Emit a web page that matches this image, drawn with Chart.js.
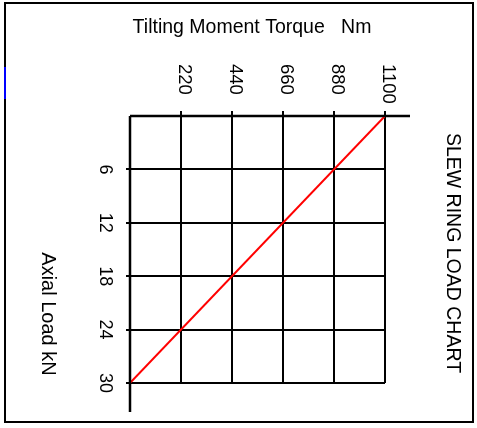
<!DOCTYPE html>
<html>
<head>
<meta charset="utf-8">
<script src="https://cdn.jsdelivr.net/npm/chart.js@4/dist/chart.umd.min.js"></script>
<style>
    html, body { margin: 0; padding: 0; background: #fff; }
    canvas { display: block; }
</style>
</head>
<body>
<canvas id="slewChart" width="477" height="428"></canvas>
<script>
(function () {
    'use strict';

    // data
    var torque = [0, 1100];          // Nm
    var axialLoad = [30, 0];         // kN
    var torqueTicks = [220, 440, 660, 880, 1100];
    var loadTicks = [6, 12, 18, 24, 30];

    var FONT = '"Liberation Sans", Arial, sans-serif';

    var gridColor = function (c) {
        return c.tick && c.tick.value === 0 ? 'rgba(0,0,0,0)' : '#000';
    };

    // frame, axis lines, rotated labels
    var decorations = {
        id: 'decorations',
        afterDraw: function (chart) {
            var ctx = chart.ctx;
            var area = chart.chartArea;
            var x = chart.scales.x;
            var y = chart.scales.y;
            var x0 = x.getPixelForValue(0);
            var y0 = y.getPixelForValue(0);

            ctx.save();
            // outer frame
            ctx.strokeStyle = '#000';
            ctx.lineWidth = 2;
            ctx.strokeRect(5, 3, 468, 419);
            ctx.strokeStyle = '#0000ff';
            ctx.beginPath();
            ctx.moveTo(5, 67);
            ctx.lineTo(5, 99);
            ctx.stroke();

            // axis lines, extending past the grid
            ctx.strokeStyle = '#000';
            ctx.lineWidth = 2.5;
            ctx.beginPath();
            ctx.moveTo(x0, y0);
            ctx.lineTo(area.right + 25, y0);
            ctx.moveTo(x0, y0);
            ctx.lineTo(x0, area.bottom + 29);
            ctx.stroke();

            ctx.fillStyle = '#000';

            // torque tick labels (rotated clockwise)
            ctx.font = '18.5px ' + FONT;
            ctx.textAlign = 'left';
            ctx.textBaseline = 'alphabetic';
            torqueTicks.forEach(function (v) {
                ctx.save();
                ctx.translate(x.getPixelForValue(v) - 2, 64);
                ctx.rotate(Math.PI / 2);
                ctx.fillText(String(v), 0, 0);
                ctx.restore();
            });

            // load tick labels (rotated clockwise)
            ctx.font = '18px ' + FONT;
            ctx.textAlign = 'center';
            loadTicks.forEach(function (v) {
                ctx.save();
                ctx.translate(100, y.getPixelForValue(v));
                ctx.rotate(Math.PI / 2);
                ctx.fillText(String(v), 0, 0);
                ctx.restore();
            });

            // titles
            ctx.font = '19.5px ' + FONT;
            ctx.textAlign = 'center';
            ctx.fillText('Tilting Moment Torque   Nm', 252, 33);

            ctx.save();
            ctx.translate(447, 253);
            ctx.rotate(Math.PI / 2);
            ctx.fillText('SLEW RING LOAD CHART', 0, 0);
            ctx.restore();

            ctx.font = '20px ' + FONT;
            ctx.save();
            ctx.translate(42, 314);
            ctx.rotate(Math.PI / 2);
            ctx.fillText('Axial Load kN', 0, 0);
            ctx.restore();

            ctx.restore();
        }
    };

    new Chart(document.getElementById('slewChart').getContext('2d'), {
        type: 'line',
        data: {
            datasets: [{
                data: torque.map(function (t, i) { return { x: t, y: axialLoad[i] }; }),
                borderColor: '#ff0000',
                borderWidth: 2,
                pointRadius: 0,
                tension: 0
            }]
        },
        options: {
            responsive: false,
            animation: false,
            layout: { padding: { top: 111, left: 126, right: 92, bottom: 45 } },
            plugins: { legend: { display: false }, tooltip: { enabled: false } },
            scales: {
                x: {
                    type: 'linear',
                    position: 'top',
                    min: 0,
                    max: 1100,
                    border: { display: false },
                    grid: { color: gridColor, lineWidth: 2, tickLength: 5 },
                    ticks: { stepSize: 220, display: false }
                },
                y: {
                    type: 'linear',
                    reverse: true,
                    min: 0,
                    max: 30,
                    border: { display: false },
                    grid: { color: gridColor, lineWidth: 2, tickLength: 4 },
                    ticks: { stepSize: 6, display: false }
                }
            }
        },
        plugins: [decorations]
    });
})();
</script>
</body>
</html>
